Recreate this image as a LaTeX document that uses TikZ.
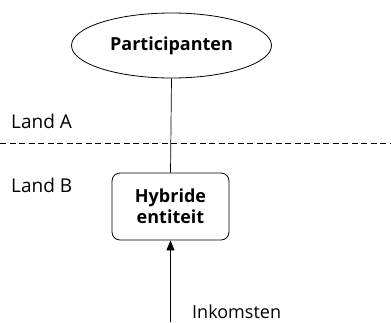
\documentclass[tikz,border=0pt]{standalone}
\usepackage{fontspec}
\setmainfont{Open Sans}
\usetikzlibrary{arrows.meta,shapes.geometric}
\begin{document}
\begin{tikzpicture}[x=1pt,y=-1pt,
  lbl/.style={anchor=base west, inner sep=0pt},
  conn/.style={draw, line width=0.7pt}]
\useasboundingbox (0,0) rectangle (391,322);
\node[draw, ellipse, minimum width=200, minimum height=65, line width=0.8pt, inner sep=0pt,
  font=\fontsize{18}{20}\selectfont\bfseries] (p) at (171.5,45.5) {Participanten};
\node[draw, rounded corners=8pt, minimum width=117, minimum height=67, line width=0.8pt,
  align=center, font=\fontsize{18}{21}\selectfont\bfseries] (h) at (170.5,206.5) {Hybride\\entiteit};
\coordinate (src) at (170.5,322);
\coordinate (dl) at (0,143);
\coordinate (dr) at (391,143);
\draw[conn] (p.south) -- (h.north);
\draw[line width=0.8pt, dash pattern=on 6pt off 3.5pt] (dl) -- (dr);
\draw[conn, -{Triangle[length=10pt,width=8pt]}] (src) -- (h.south);
\node[lbl, font=\fontsize{19}{20}\selectfont] (la) at (11,128) {Land A};
\node[lbl, font=\fontsize{19}{20}\selectfont] (lb) at (11,192) {Land B};
\node[lbl, font=\fontsize{18}{20}\selectfont] (ink) at (192,318) {Inkomsten};
\end{tikzpicture}
\end{document}
